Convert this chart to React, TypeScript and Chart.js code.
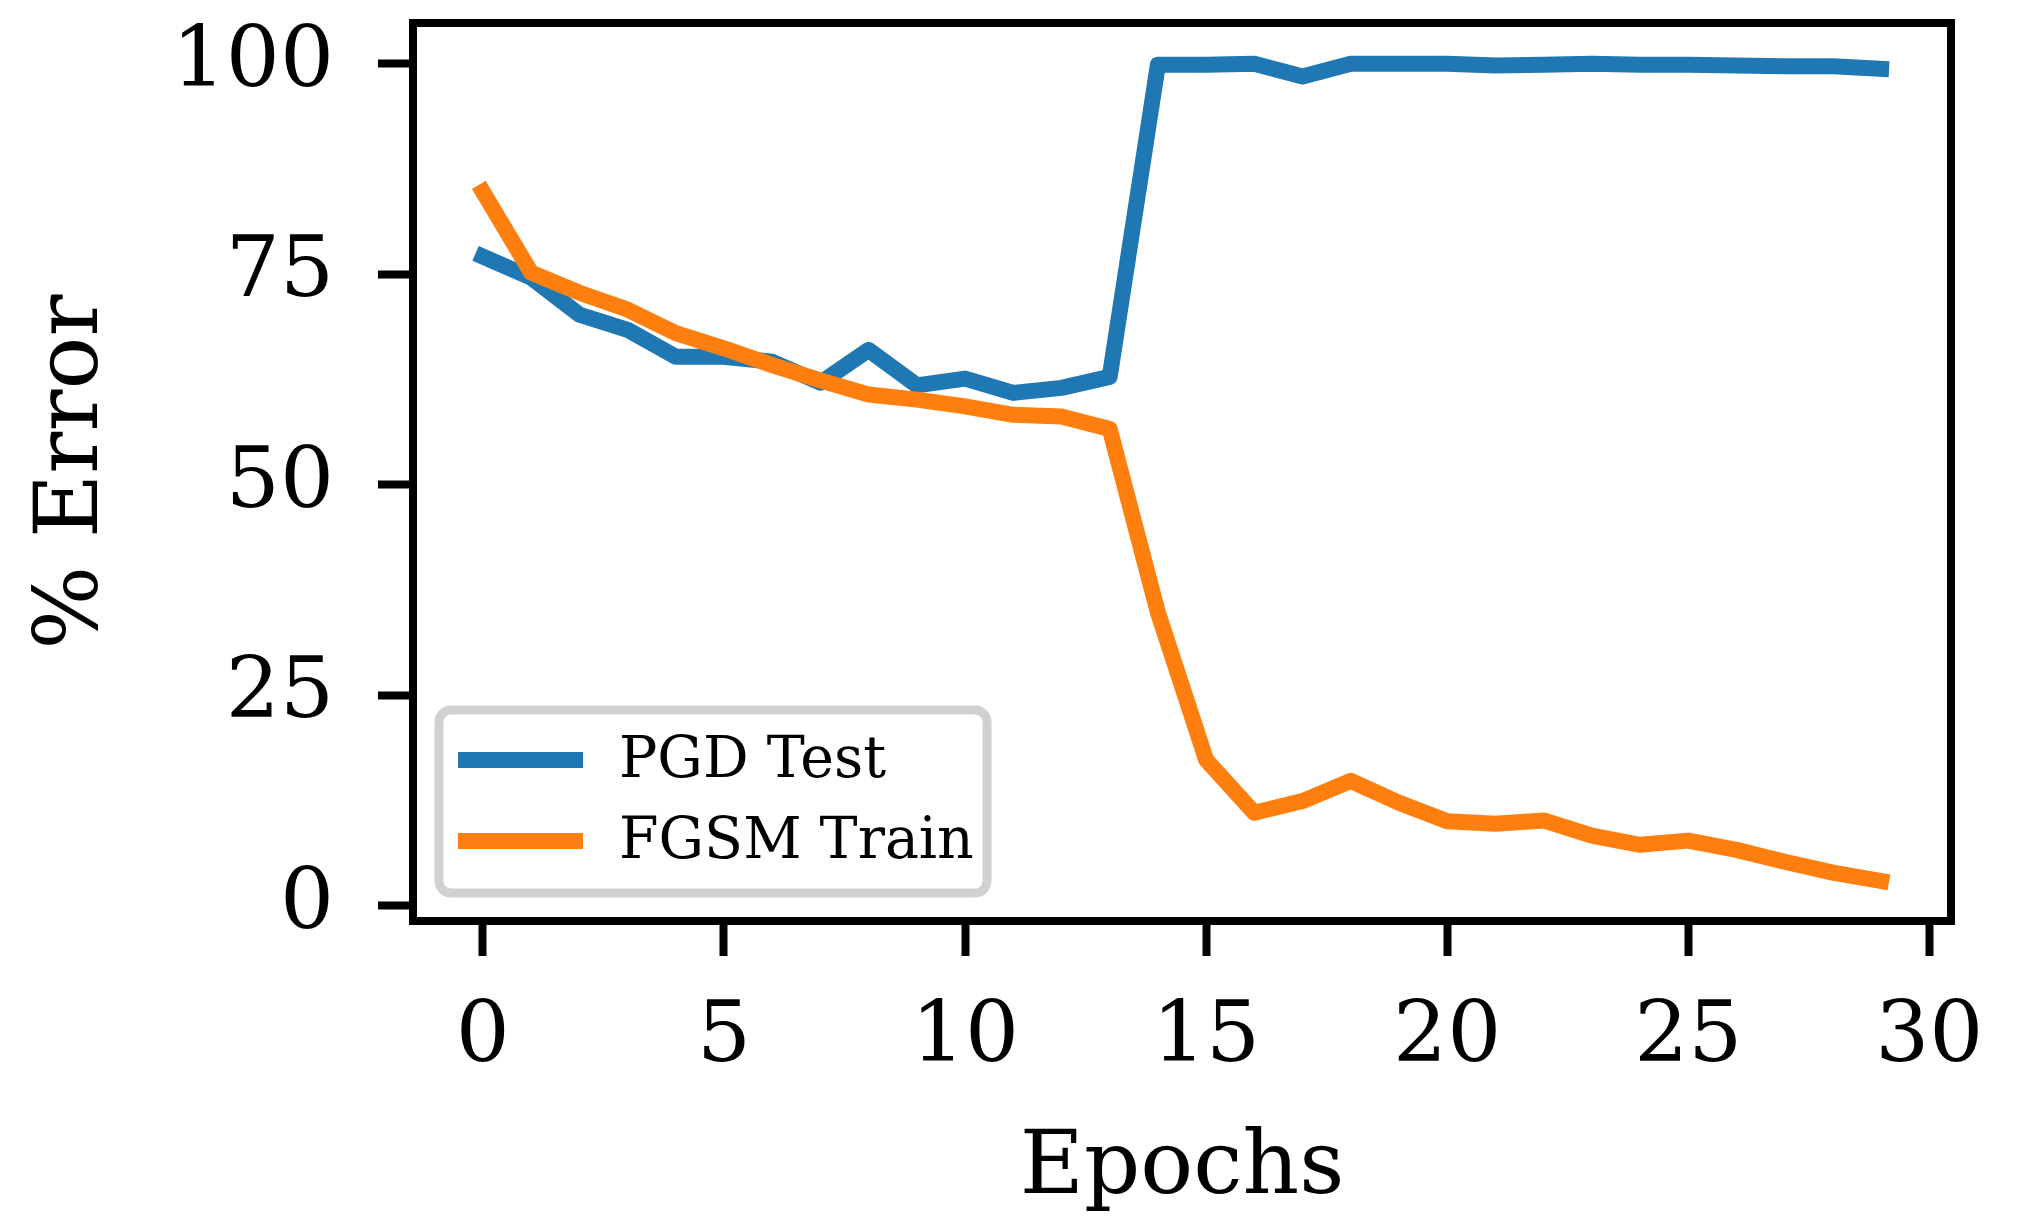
import React, { useEffect, useRef } from "react";
import { Chart, registerables } from "chart.js";

Chart.register(...registerables);

const epochs = [0, 1, 2, 3, 4, 5, 6, 7, 8, 9, 10, 11, 12, 13, 14, 15, 16, 17, 18, 19, 20, 21, 22, 23, 24, 25, 26, 27, 28, 29];
const pgdTest = [77.1, 74.6, 70.2, 68.4, 65.2, 65.2, 64.6, 62.1, 66.0, 61.8, 62.6, 60.9, 61.5, 62.8, 99.9, 99.9, 100.0, 98.5, 100.0, 100.0, 100.0, 99.8, 99.9, 100.0, 99.9, 99.9, 99.8, 99.7, 99.7, 99.4];
const fgsmTrain = [84.8, 75.2, 72.8, 70.8, 68.0, 66.2, 64.2, 62.4, 60.7, 60.1, 59.3, 58.3, 58.1, 56.6, 34.8, 17.3, 11.0, 12.4, 14.8, 12.2, 10.0, 9.7, 10.1, 8.3, 7.2, 7.7, 6.6, 5.2, 3.9, 2.9];
const seriesLabels = ["PGD Test", "FGSM Train"];
const seriesColors = ["#1f77b4", "#ff7f0e"];
const xTicks = [0, 5, 10, 15, 20, 25, 30];
const yTicks = [0, 25, 50, 75, 100];
const xTitle = "Epochs";
const yTitle = "% Error";

const FONT = "'DejaVu Serif', serif";

const framePlugin = {
  id: "frameAndLegend",
  afterDatasetsDraw(chart: any) {
    const ctx = chart.ctx as CanvasRenderingContext2D;
    const { left, right, top, bottom } = chart.chartArea;
    ctx.save();
    // spines
    ctx.strokeStyle = "#000";
    ctx.lineWidth = 8;
    ctx.lineJoin = "miter";
    ctx.strokeRect(left, top, right - left, bottom - top);

    // legend
    const bx = left + 26;
    const bw = 548;
    const bh = 183;
    const by = bottom - 28 - bh;
    const r = 12;
    ctx.beginPath();
    ctx.moveTo(bx + r, by);
    ctx.lineTo(bx + bw - r, by);
    ctx.arcTo(bx + bw, by, bx + bw, by + r, r);
    ctx.lineTo(bx + bw, by + bh - r);
    ctx.arcTo(bx + bw, by + bh, bx + bw - r, by + bh, r);
    ctx.lineTo(bx + r, by + bh);
    ctx.arcTo(bx, by + bh, bx, by + bh - r, r);
    ctx.lineTo(bx, by + r);
    ctx.arcTo(bx, by, bx + r, by, r);
    ctx.closePath();
    ctx.fillStyle = "rgba(255,255,255,0.8)";
    ctx.fill();
    ctx.strokeStyle = "rgba(204,204,204,0.9)";
    ctx.lineWidth = 9;
    ctx.stroke();

    const rows = [by + 50, by + 131];
    chart.data.datasets.forEach((ds: any, i: number) => {
      const ry = rows[i];
      ctx.beginPath();
      ctx.strokeStyle = ds.borderColor;
      ctx.lineWidth = 16;
      ctx.lineCap = "butt";
      ctx.moveTo(bx + 19, ry);
      ctx.lineTo(bx + 144, ry);
      ctx.stroke();
      ctx.fillStyle = "#000";
      ctx.font = `57px ${FONT}`;
      ctx.textBaseline = "middle";
      ctx.textAlign = "left";
      ctx.fillText(ds.label, bx + 180, ry + 2);
    });
    ctx.restore();
  },
};

export default function App() {
  const ref = useRef<HTMLCanvasElement | null>(null);

  useEffect(() => {
    if (!ref.current) return;
    const chart = new Chart(ref.current, {
      type: "line",
      data: {
        datasets: [
          {
            label: seriesLabels[0],
            data: epochs.map((e, i) => ({ x: e, y: pgdTest[i] })),
            borderColor: seriesColors[0],
            backgroundColor: seriesColors[0],
            borderWidth: 16,
            pointRadius: 0,
            tension: 0,
            borderCapStyle: "square",
            borderJoinStyle: "round",
            order: 1,
          },
          {
            label: seriesLabels[1],
            data: epochs.map((e, i) => ({ x: e, y: fgsmTrain[i] })),
            borderColor: seriesColors[1],
            backgroundColor: seriesColors[1],
            borderWidth: 16,
            pointRadius: 0,
            tension: 0,
            borderCapStyle: "square",
            borderJoinStyle: "round",
            order: 0,
          },
        ],
      },
      options: {
        animation: false,
        responsive: false,
        devicePixelRatio: 1,
        layout: { padding: { left: 0, top: 23, right: 72, bottom: 0 } },
        plugins: {
          legend: { display: false },
          tooltip: { enabled: false },
        },
        scales: {
          x: {
            type: "linear",
            min: -1.45,
            max: 30.45,
            afterBuildTicks: (s: any) => {
              s.ticks = xTicks.map((v) => ({ value: v }));
            },
            afterFit: (s: any) => {
              s.height = 296;
              s.paddingLeft = 0;
              s.paddingRight = 0;
            },
            ticks: {
              color: "#000",
              font: { family: FONT, size: 85 },
              padding: 32,
              maxRotation: 0,
              autoSkip: false,
            },
            grid: {
              drawOnChartArea: false,
              drawTicks: true,
              tickLength: 35,
              tickWidth: 8,
              tickColor: "#000",
            },
            border: { display: false },
            title: {
              display: true,
              text: xTitle,
              color: "#000",
              font: { family: FONT, size: 88, lineHeight: 1 },
              padding: { top: 0, bottom: 3 },
            },
          },
          y: {
            type: "linear",
            min: -1.85,
            max: 104.85,
            afterBuildTicks: (s: any) => {
              s.ticks = yTicks.map((v) => ({ value: v }));
            },
            afterFit: (s: any) => {
              s.width = 413;
              s.paddingTop = 0;
              s.paddingBottom = 0;
            },
            ticks: {
              color: "#000",
              font: { family: FONT, size: 85 },
              padding: 44,
              autoSkip: false,
            },
            grid: {
              drawOnChartArea: false,
              drawTicks: true,
              tickLength: 35,
              tickWidth: 8,
              tickColor: "#000",
            },
            border: { display: false },
            title: {
              display: true,
              text: yTitle,
              color: "#000",
              font: { family: FONT, size: 88, lineHeight: 1 },
              padding: { top: 30, bottom: 0 },
            },
          },
        },
      },
      plugins: [framePlugin],
    } as any);
    return () => chart.destroy();
  }, []);

  return (
    <div style={{ position: "absolute", left: 0, top: 0, width: 2023, height: 1217, background: "#fff" }}>
      <canvas ref={ref} width={2023} height={1217} style={{ display: "block" }} />
    </div>
  );
}
